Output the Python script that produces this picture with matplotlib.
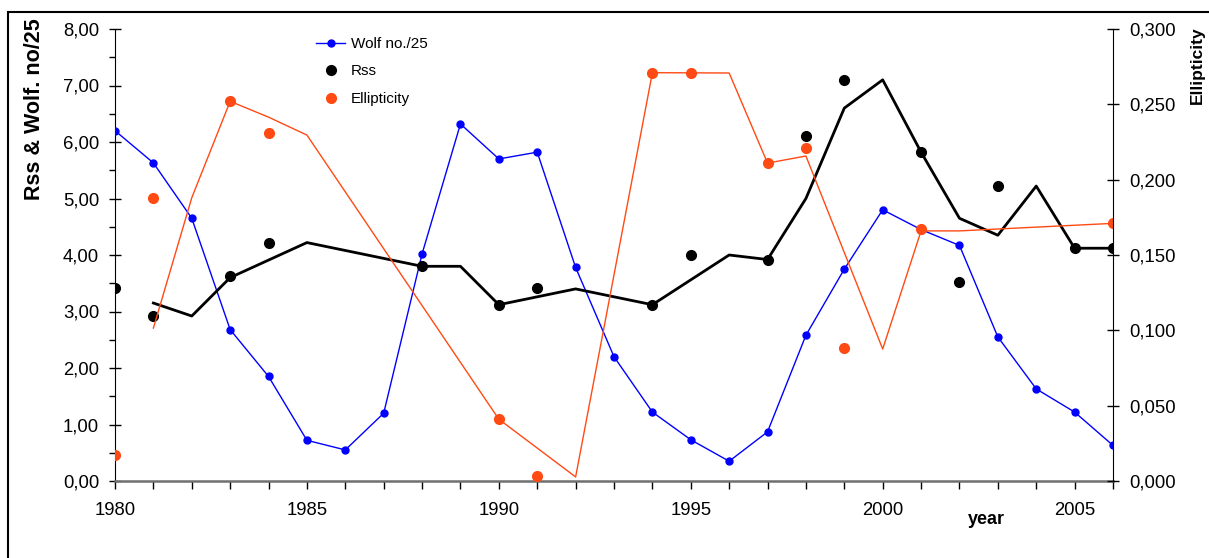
import numpy as np
import matplotlib
matplotlib.use("Agg")
import matplotlib.pyplot as plt
from matplotlib.ticker import FuncFormatter, MultipleLocator
from matplotlib.patches import Rectangle

plt.rcParams['font.family'] = ['Liberation Sans', 'DejaVu Sans']

# Wolf number / 25, one value per year
years = list(range(1980, 2007))
wolf = [6.20, 5.63, 4.65, 2.68, 1.85, 0.72, 0.55, 1.20, 4.02, 6.32, 5.70, 5.82, 3.78,
        2.20, 1.22, 0.73, 0.35, 0.87, 2.58, 3.75, 4.80, 4.45, 4.17, 2.55, 1.63, 1.22, 0.63]

# Rss observations
rss_years = [1980, 1981, 1983, 1984, 1988, 1990, 1991, 1994, 1995, 1997, 1998, 1999,
             2001, 2002, 2003, 2005, 2006]
rss = [3.42, 2.92, 3.62, 4.22, 3.80, 3.12, 3.42, 3.12, 4.00, 3.92, 6.10, 7.10,
       5.82, 3.52, 5.22, 4.12, 4.12]

# Rss smoothed curve
rss_line_years = [1981, 1982, 1983, 1985, 1988, 1989, 1990, 1992, 1994, 1996, 1997, 1998,
                  1999, 2000, 2001, 2002, 2003, 2004, 2005, 2006]
rss_line = [3.15, 2.92, 3.60, 4.22, 3.80, 3.80, 3.12, 3.40, 3.12, 4.00, 3.92, 5.00,
            6.60, 7.10, 5.82, 4.65, 4.35, 5.22, 4.12, 4.12]

# Ellipticity observations
ell_years = [1980, 1981, 1983, 1984, 1990, 1991, 1994, 1995, 1997, 1998, 1999, 2001, 2006]
ell = [0.017, 0.188, 0.252, 0.231, 0.041, 0.003, 0.271, 0.271, 0.211, 0.221, 0.088, 0.167, 0.171]

# Ellipticity smoothed curve
ell_line_years = [1981, 1982, 1983, 1984, 1985, 1990, 1992, 1994, 1996, 1997, 1998,
                  2000, 2001, 2002, 2006]
ell_line = [0.1015, 0.188, 0.252, 0.2415, 0.2296, 0.041, 0.0027, 0.271, 0.2708, 0.211,
            0.2157, 0.0876, 0.166, 0.166, 0.171]

blue = '#0000ff'
orange = '#ff4a14'

fig = plt.figure(figsize=(12.09, 5.58), dpi=100)
ax = fig.add_axes([115/1209, 1-481/558, (1113-115)/1209, (481-29)/558])
ax2 = ax.twinx()

ax.plot(years, wolf, color=blue, lw=1, marker='o', ms=5, label='Wolf no./25', zorder=3)
ax.plot(rss_line_years, rss_line, color='black', lw=2, zorder=4)
rss_pts, = ax.plot(rss_years, rss, 'o', color='black', ms=7, label='Rss', zorder=5)
ax2.plot(ell_line_years, ell_line, color=orange, lw=1)
ell_pts, = ax2.plot(ell_years, ell, 'o', color=orange, ms=7, label='Ellipticity')

ax.set_xlim(1980, 2006)
ax.set_ylim(0, 8)
ax2.set_ylim(0, 0.3)

ax.xaxis.set_major_locator(MultipleLocator(5))
ax.xaxis.set_minor_locator(MultipleLocator(1))
ax.yaxis.set_major_locator(MultipleLocator(1))
ax.yaxis.set_minor_locator(MultipleLocator(0.5))
ax2.yaxis.set_major_locator(MultipleLocator(0.05))

ax.yaxis.set_major_formatter(FuncFormatter(lambda v, p: f"{v:.2f}".replace('.', ',')))
ax2.yaxis.set_major_formatter(FuncFormatter(lambda v, p: f"{v:.3f}".replace('.', ',')))

for s in ['top', 'right']:
    ax.spines[s].set_visible(False)
for s in ['top', 'left', 'bottom']:
    ax2.spines[s].set_visible(False)
ax.spines['bottom'].set_color('#707070')
ax.spines['bottom'].set_linewidth(1.8)

ax.tick_params(axis='y', which='major', direction='inout', length=9, width=1, labelsize=13.3, pad=7)
ax.tick_params(axis='y', which='minor', direction='out', length=4, width=1)
ax.tick_params(axis='x', which='both', direction='out', length=6, width=1, labelsize=13.3, pad=9)
ax2.tick_params(axis='y', which='major', direction='inout', length=9, width=1, labelsize=13.3, pad=7)

fig.text(35/1209, 1-109/558, 'Rss & Wolf. no/25', rotation=90, ha='center', va='center',
         fontsize=15.5, fontweight='bold')
fig.text(1197/1209, 1-65/558, 'Ellipticity', rotation=90, ha='center', va='center',
         fontsize=12.5, fontweight='bold')
fig.text(986/1209, 1-520/558, 'year', ha='center', va='center', fontsize=13, fontweight='bold')

handles = [ax.lines[0], rss_pts, ell_pts]
ax2.legend(handles, [h.get_label() for h in handles], loc='upper left',
           bbox_to_anchor=(316/1209, 1-37/558), bbox_transform=fig.transFigure,
           frameon=False, fontsize=11, borderpad=0, borderaxespad=0,
           handlelength=1.9, handletextpad=0.4, labelspacing=0.88)

fig.patches.append(Rectangle((8/1209, -0.1), 1.2, 0.1 + 1-12/558, transform=fig.transFigure,
                             fill=False, lw=1.5, edgecolor='black'))

fig.savefig('out.png', dpi=100)
